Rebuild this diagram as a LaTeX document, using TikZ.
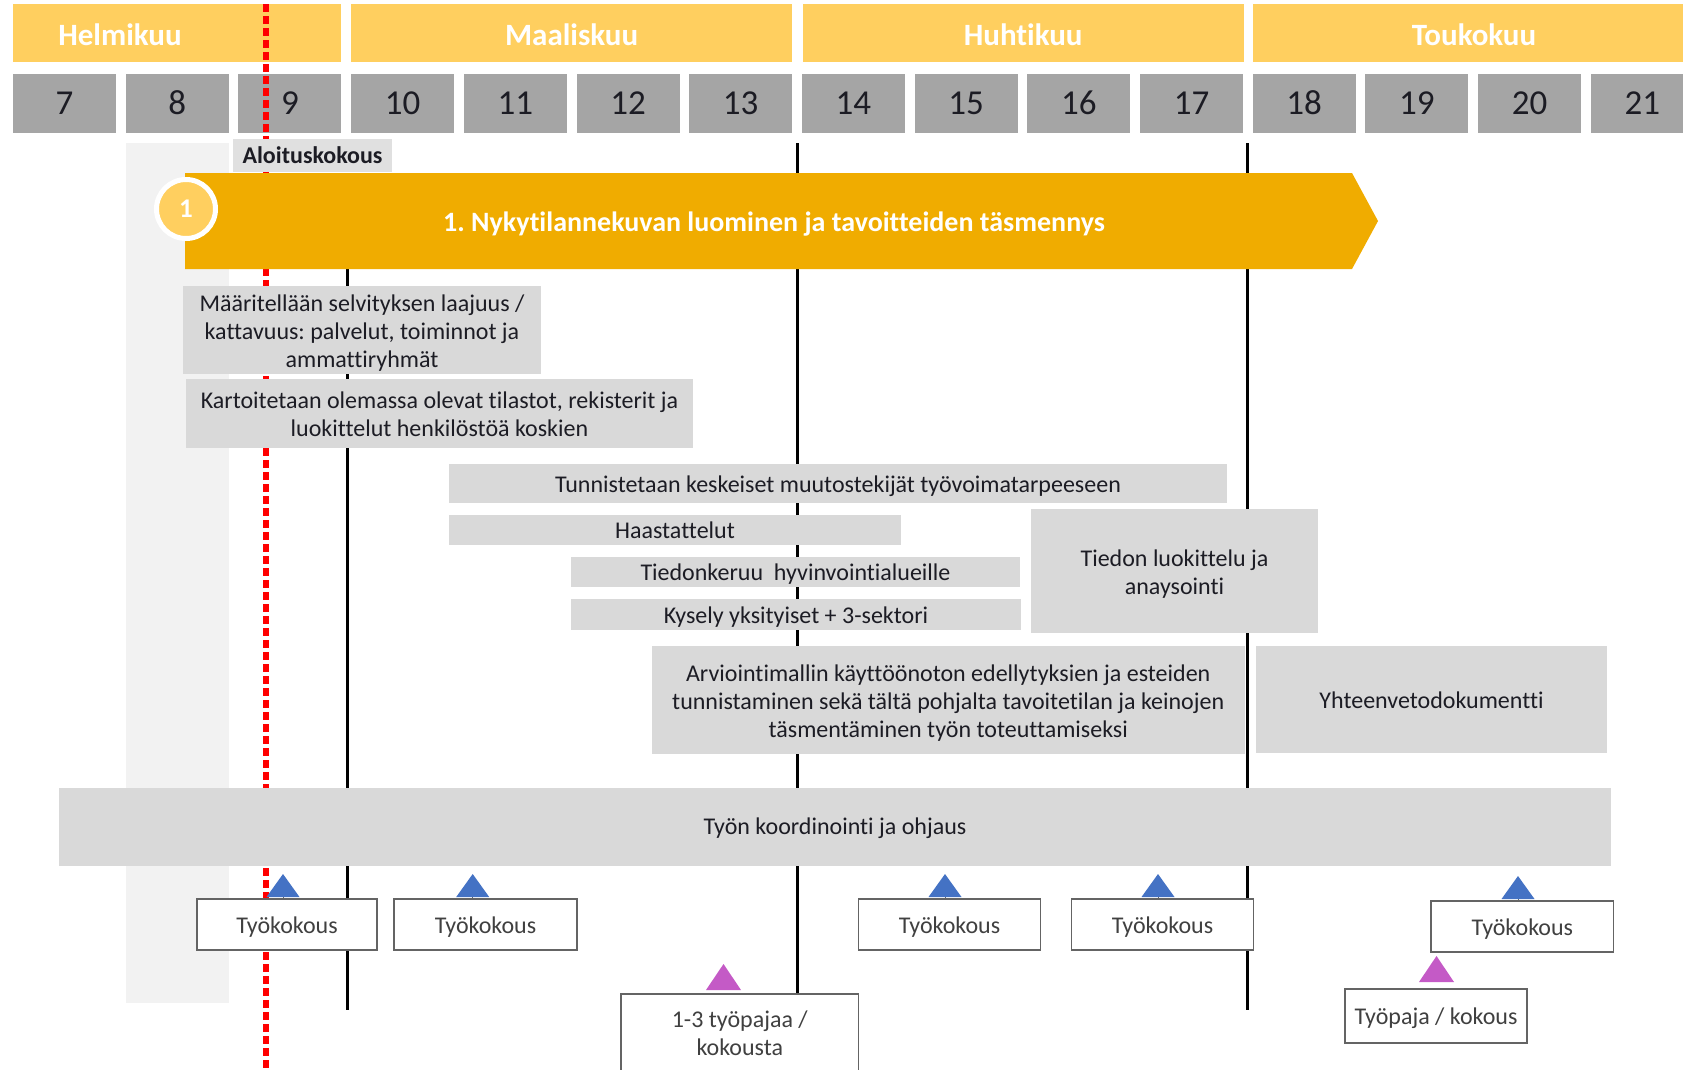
\documentclass[tikz,border=0pt]{standalone}
\usepackage{fontspec}
\setmainfont{Carlito}[Ligatures=NoCommon]
\definecolor{monthc}{RGB}{255,207,95}
\definecolor{weekc}{RGB}{165,165,165}
\definecolor{arrowc}{RGB}{240,172,0}
\definecolor{boxc}{RGB}{217,217,217}
\definecolor{panelc}{RGB}{242,242,242}
\definecolor{labelc}{RGB}{224,224,224}
\definecolor{txtc}{RGB}{28,28,36}
\definecolor{meetc}{RGB}{64,64,64}
\definecolor{edgec}{RGB}{100,100,100}
\definecolor{triblue}{RGB}{68,114,196}
\definecolor{tripurple}{RGB}{196,90,198}
\definecolor{redlinec}{RGB}{255,0,0}
\tikzset{
  bluetri/.pic={\fill[triblue] (-16.5,0) -- (16.5,0) -- (0,-23) -- cycle;},
  purpletri/.pic={\fill[tripurple] (-17.5,0) -- (17.5,0) -- (0,-26) -- cycle;}
}
\begin{document}
\frenchspacing
\begin{tikzpicture}[x=1pt,y=-1pt,
  monthbar/.style={fill=monthc, inner sep=0, minimum height=58},
  monthtext/.style={text=white, inner sep=0, font=\fontsize{31}{36}\selectfont\bfseries},
  weekbox/.style={fill=weekc, inner sep=0, minimum width=103, minimum height=59, text=txtc, font=\fontsize{35}{40}\selectfont},
  graybox/.style={fill=boxc, inner sep=0},
  graytext/.style={inner sep=0, align=center, text=txtc, font=\fontsize{24}{28}\selectfont},
  meetbox/.style={draw=edgec, line width=1.5, fill=white, inner sep=0},
  meettext/.style={inner sep=0, align=center, text=meetc, font=\fontsize{24}{28.5}\selectfont},
  vline/.style={line width=3, black},
  reddash/.style={line width=6, redlinec, dash pattern=on 8 off 4},
  stemline/.style={edgec, line width=1}
]
\useasboundingbox (0,0) rectangle (1683,1069);
\fill[white] (0,0) rectangle (1683,1069);

% background panel for week 8
\node[fill=panelc, inner sep=0, minimum width=103.5, minimum height=860, anchor=north west] (panel) at (125.5,143) {};

% months
\node[monthbar, minimum width=328.4] (helmi) at (177.2,33) {};
\node[monthbar, minimum width=441.1] (maalis) at (571.65,33) {};
\node[monthbar, minimum width=441.1] (huhti) at (1023.15,33) {};
\node[monthbar, minimum width=441.1] (touko) at (1473.95,33) {};
\node[monthtext] (helmit) at (120,35) {Helmikuu};
\node[monthtext] (maalist) at (571.65,35) {Maaliskuu};
\node[monthtext] (huhtit) at (1023.15,35) {Huhtikuu};
\node[monthtext] (toukot) at (1473.95,35) {Toukokuu};

% weeks
\foreach \k in {7,...,21} {
  \node[weekbox] (w\k) at ({64.5+(\k-7)*112.7},103) {\k};
}

% red dashed "today" line
\coordinate (redtop) at (266,4);
\coordinate (redbot) at (266,1069);
\draw[reddash] (redtop) -- (redbot);

% black month separators
\coordinate (v1t) at (347,175); \coordinate (v1b) at (347,1010);
\coordinate (v2t) at (797,143); \coordinate (v2b) at (797,1010);
\coordinate (v3t) at (1247.5,143); \coordinate (v3b) at (1247.5,1010);
\draw[vline] (v1t) -- (v1b);
\draw[vline] (v2t) -- (v2b);
\draw[vline] (v3t) -- (v3b);

% kick-off label
\node[fill=labelc, inner sep=0, minimum width=159, minimum height=33, text=txtc, font=\fontsize{24}{28}\selectfont\bfseries] (kickoff) at (312.5,155.5) {Aloituskokous};

% phase arrow
\fill[arrowc] (185,173) -- (1352,173) -- (1378,221) -- (1352,269) -- (185,269) -- cycle;
\node[text=white, inner sep=0, font=\fontsize{28}{32}\selectfont\bfseries] (phasetxt) at (774,224) {1. Nykytilannekuvan luominen ja tavoitteiden täsmennys};
\node[circle, fill=monthc, draw=white, line width=5, minimum size=59, inner sep=0, text=white, font=\fontsize{27}{30}\selectfont\bfseries] (num1) at (186,209) {1};

% task boxes
\node[graybox, minimum width=358, minimum height=88] (b1) at (362,330) {};
\node[graytext] (b1t) at (362,333) {Määritellään selvityksen laajuus /\\ kattavuus: palvelut, toiminnot ja\\ ammattiryhmät};
\node[graybox, minimum width=507, minimum height=69] (b2) at (439.5,413.5) {};
\node[graytext] (b2t) at (439.5,414.5) {Kartoitetaan olemassa olevat tilastot, rekisterit ja\\ luokittelut henkilöstöä koskien};
\node[graybox, minimum width=778, minimum height=39] (b3) at (838,483.5) {};
\node[graytext] (b3t) at (838,486.5) {Tunnistetaan keskeiset muutostekijät työvoimatarpeeseen};
\node[graybox, minimum width=452, minimum height=30] (b4) at (675,530) {};
\node[graytext] (b4t) at (675,530.5) {Haastattelut};
\node[graybox, minimum width=449, minimum height=30] (b5) at (795.5,572) {};
\node[graytext] (b5t) at (795.5,574) {Tiedonkeruu\ \ hyvinvointialueille};
\node[graybox, minimum width=450.5, minimum height=31] (b6) at (796,614.5) {};
\node[graytext] (b6t) at (796,617.5) {Kysely yksityiset + 3-sektori};
\node[graybox, minimum width=287, minimum height=124] (b7) at (1174.5,571) {};
\node[graytext] (b7t) at (1174.5,574) {Tiedon luokittelu ja\\ anaysointi};
\node[graybox, minimum width=593.5, minimum height=108] (b8) at (948.25,700) {};
\node[graytext] (b8t) at (948.25,703.5) {Arviointimallin käyttöönoton edellytyksien ja esteiden\\ tunnistaminen sekä tältä pohjalta tavoitetilan ja keinojen\\ täsmentäminen työn toteuttamiseksi};
\node[graybox, minimum width=351, minimum height=107] (b9) at (1431.5,699.5) {};
\node[graytext] (b9t) at (1431.5,700.5) {Yhteenvetodokumentti};
\node[graybox, minimum width=1552, minimum height=78] (b10) at (835,827) {};
\node[graytext] (b10t) at (835,828) {Työn koordinointi ja ohjaus};

% meetings
\node[meetbox, minimum width=180, minimum height=51] (t1) at (287,924.5) {};
\node[meetbox, minimum width=183, minimum height=51] (t2) at (485.5,924.5) {};
\node[meetbox, minimum width=182, minimum height=51] (t3) at (949.5,924.5) {};
\node[meetbox, minimum width=182, minimum height=51] (t4) at (1162.5,924.5) {};
\node[meetbox, minimum width=182.7, minimum height=51] (t5) at (1522.3,926.5) {};
\node[meetbox, minimum width=237.5, minimum height=80] (ws1) at (739.75,1034) {};
\node[meetbox, minimum width=182, minimum height=54] (ws2) at (1436,1016) {};
\node[meettext] (t1t) at (287,927.5) {Työkokous};
\node[meettext] (t2t) at (485.5,927.5) {Työkokous};
\node[meettext] (t3t) at (949.5,927.5) {Työkokous};
\node[meettext] (t4t) at (1162.5,927.5) {Työkokous};
\node[meettext] (t5t) at (1522.3,929.5) {Työkokous};
\node[meettext] (ws1t) at (739.75,1033) {1-3 työpajaa /\\ kokousta};
\node[meettext] (ws2t) at (1436,1018) {Työpaja / kokous};

% meeting markers
\coordinate (tb1) at (283,897);
\coordinate (tb2) at (472.7,897);
\coordinate (tb3) at (945,897);
\coordinate (tb4) at (1158,897);
\coordinate (tb5) at (1518,899);
\draw[stemline] (tb1) -- (tb1 |- t1.north);
\draw[stemline] (tb2) -- (tb2 |- t2.north);
\draw[stemline] (tb3) -- (tb3 |- t3.north);
\draw[stemline] (tb4) -- (tb4 |- t4.north);
\draw[stemline] (tb5) -- (tb5 |- t5.north);
\pic at (tb1) {bluetri};
\pic at (tb2) {bluetri};
\pic at (tb3) {bluetri};
\pic at (tb4) {bluetri};
\pic at (tb5) {bluetri};
\coordinate (tp1) at (723.5,990);
\coordinate (tp2) at (1436.5,982);
\pic at (tp1) {purpletri};
\pic at (tp2) {purpletri};
\end{tikzpicture}
\end{document}
